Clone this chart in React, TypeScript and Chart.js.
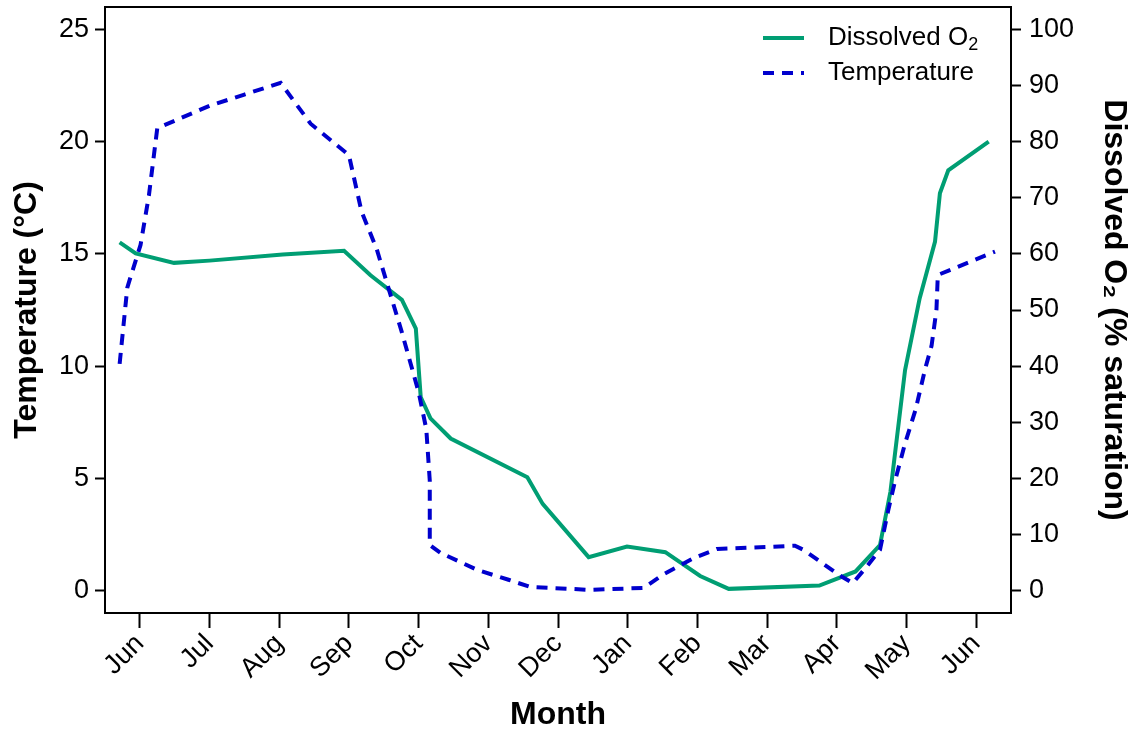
import React, { useEffect, useRef } from 'react';
import { Chart, registerables } from 'chart.js';

Chart.register(...registerables);

const FONT = '"Liberation Sans", Arial, Helvetica, sans-serif';

// Month tick labels (x = months since first June)
const monthLabels = ['Jun', 'Jul', 'Aug', 'Sep', 'Oct', 'Nov', 'Dec', 'Jan', 'Feb', 'Mar', 'Apr', 'May', 'Jun'];
const tempTicks = [0, 5, 10, 15, 20, 25];
const o2Ticks = [0, 10, 20, 30, 40, 50, 60, 70, 80, 90, 100];

// Temperature (°C)
const tempX = [-0.29, -0.18, 0.01, 0.13, 0.25, 1.0, 1.5, 2.02, 2.45, 3.0, 3.18, 3.4, 3.76, 4.0, 4.11, 4.16, 4.16, 4.32, 4.84, 5.29, 5.6, 6.47, 7.23, 7.5, 7.95, 8.28, 9.0, 9.4, 9.53, 10.03, 10.23, 10.43, 10.62, 10.74, 10.84, 10.98, 11.13, 11.27, 11.36, 11.43, 11.45, 12.27];
const tempY = [10.1, 13.5, 15.4, 17.6, 20.6, 21.6, 22.1, 22.62, 20.8, 19.4, 16.9, 15.2, 11.5, 8.84, 7.2, 4.9, 2.03, 1.67, 0.92, 0.48, 0.16, 0.03, 0.12, 0.7, 1.45, 1.85, 1.94, 2.0, 1.8, 0.7, 0.33, 1.07, 1.81, 3.6, 4.93, 6.56, 8.05, 9.9, 10.9, 12.5, 14.06, 15.1];

// Dissolved O2 (% saturation)
const o2X = [-0.29, -0.06, 0.49, 1.0, 2.05, 2.93, 3.31, 3.76, 3.96, 4.03, 4.17, 4.46, 5.56, 5.78, 6.44, 6.99, 7.54, 8.04, 8.45, 9.75, 10.27, 10.62, 10.77, 10.98, 11.19, 11.41, 11.48, 11.6, 12.18];
const o2Y = [62.05, 60.1, 58.4, 58.8, 59.9, 60.55, 56.2, 51.8, 46.7, 34.5, 30.7, 27.1, 20.2, 15.44, 5.95, 7.84, 6.84, 2.6, 0.3, 0.9, 3.4, 8.1, 17.6, 39.3, 52.1, 62.2, 70.8, 74.9, 80.0];

const GREEN = '#009E73';
const BLUE = '#0000CD';

const framePlugin = {
  id: 'frameAndLegend',
  afterDraw(chart: any) {
    const { ctx, chartArea: a } = chart;
    ctx.save();
    ctx.strokeStyle = '#000';
    ctx.lineWidth = 2;
    ctx.setLineDash([]);
    ctx.strokeRect(a.left, a.top, a.right - a.left, a.bottom - a.top);

    // legend inside top-right
    const x0 = a.right - 248;
    const x1 = x0 + 41;
    const tx = x0 + 65;
    chart.data.datasets.forEach((ds: any, i: number) => {
      const y = a.top + 31 + i * 35;
      ctx.beginPath();
      ctx.setLineDash(ds.borderDash || []);
      ctx.strokeStyle = ds.borderColor;
      ctx.lineWidth = ds.borderWidth;
      ctx.moveTo(x0, y);
      ctx.lineTo(x1, y);
      ctx.stroke();
      ctx.setLineDash([]);
      ctx.fillStyle = '#000';
      ctx.textBaseline = 'middle';
      ctx.textAlign = 'left';
      const parts = String(ds.label).split('₂');
      let cx = tx;
      parts.forEach((p: string, k: number) => {
        ctx.font = `26px ${FONT}`;
        ctx.fillText(p, cx, y);
        cx += ctx.measureText(p).width;
        if (k < parts.length - 1) {
          ctx.font = `18px ${FONT}`;
          ctx.fillText('2', cx, y + 7);
          cx += ctx.measureText('2').width;
        }
      });
    });
    ctx.restore();
  },
};

export default function App() {
  const ref = useRef<HTMLCanvasElement | null>(null);
  useEffect(() => {
    document.body.style.margin = '0';
    const canvas = ref.current!;
    const chart = new Chart(canvas, {
      type: 'line',
      data: {
        datasets: [
          {
            label: 'Dissolved O₂',
            data: o2X.map((x, i) => ({ x, y: o2Y[i] })),
            yAxisID: 'y2',
            borderColor: GREEN,
            borderWidth: 4,
            pointRadius: 0,
            fill: false,
            tension: 0,
            order: 1,
          },
          {
            label: 'Temperature',
            data: tempX.map((x, i) => ({ x, y: tempY[i] })),
            yAxisID: 'y',
            borderColor: BLUE,
            borderWidth: 4,
            borderDash: [11, 8],
            pointRadius: 0,
            fill: false,
            tension: 0,
            order: 0,
          },
        ],
      },
      options: {
        responsive: false,
        animation: false,
        devicePixelRatio: 1,
        layout: { padding: { top: 7, left: 0, right: 0, bottom: 0 } },
        plugins: { legend: { display: false }, tooltip: { enabled: false }, title: { display: false } },
        scales: {
          x: {
            type: 'linear',
            min: -0.5,
            max: 12.5,
            afterBuildTicks: (s: any) => {
              s.ticks = monthLabels.map((_, i) => ({ value: i }));
            },
            afterFit: (s: any) => {
              s.height = 118;
              s.paddingLeft = 0;
              s.paddingRight = 0;
            },
            ticks: {
              autoSkip: false,
              minRotation: 45,
              maxRotation: 45,
              padding: 0,
              color: '#000',
              font: { size: 27, family: FONT },
              callback: (_v: any, i: number) => monthLabels[i],
            },
            grid: { display: true, drawOnChartArea: false, drawTicks: true, tickLength: 15, tickWidth: 2, tickColor: '#000' },
            border: { display: true, color: '#000', width: 2 },
            title: {
              display: true,
              text: 'Month',
              color: '#000',
              font: { size: 32, weight: 'bold', family: FONT, lineHeight: 1 },
              padding: { top: 0, bottom: 0 },
            },
          },
          y: {
            type: 'linear',
            position: 'left',
            min: -1,
            max: 26,
            afterBuildTicks: (s: any) => {
              s.ticks = tempTicks.map((v) => ({ value: v }));
            },
            afterFit: (s: any) => {
              s.width = 105;
              s.paddingTop = 0;
              s.paddingBottom = 0;
            },
            ticks: { padding: 6, color: '#000', font: { size: 27, family: FONT } },
            grid: { display: true, drawOnChartArea: false, drawTicks: true, tickLength: 10, tickWidth: 2, tickColor: '#000' },
            border: { display: true, color: '#000', width: 2 },
            title: {
              display: true,
              text: 'Temperature (°C)',
              color: '#000',
              font: { size: 32, weight: 'bold', family: FONT, lineHeight: 1 },
              padding: { top: 11, bottom: 0 },
            },
          },
          y2: {
            type: 'linear',
            position: 'right',
            min: -4,
            max: 104,
            afterBuildTicks: (s: any) => {
              s.ticks = o2Ticks.map((v) => ({ value: v }));
            },
            afterFit: (s: any) => {
              s.width = 127;
              s.paddingTop = 0;
              s.paddingBottom = 0;
            },
            ticks: { padding: 8, color: '#000', font: { size: 27, family: FONT } },
            grid: { display: true, drawOnChartArea: false, drawTicks: true, tickLength: 10, tickWidth: 2, tickColor: '#000' },
            border: { display: true, color: '#000', width: 2 },
            title: {
              display: true,
              text: 'Dissolved O₂ (% saturation)',
              color: '#000',
              font: { size: 32, weight: 'bold', family: FONT, lineHeight: 1 },
              padding: { top: 8, bottom: 0 },
            },
          },
        },
      },
      plugins: [framePlugin],
    } as any);
    return () => chart.destroy();
  }, []);
  return (
    <div style={{ width: 1138, height: 731 }}>
      <canvas ref={ref} width={1138} height={731} style={{ display: 'block', width: 1138, height: 731 }} />
    </div>
  );
}
